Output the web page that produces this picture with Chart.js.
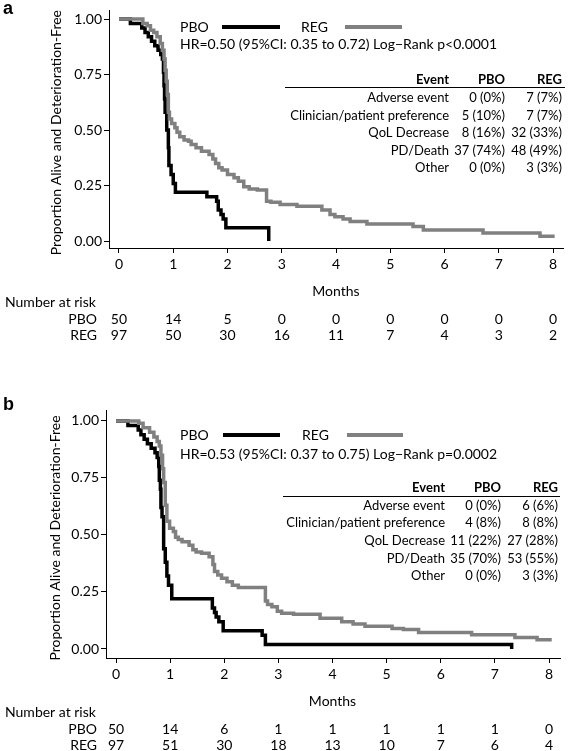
<!DOCTYPE html>
<html><head><meta charset="utf-8">
<script src="https://cdn.jsdelivr.net/npm/chart.js@4.4.0/dist/chart.umd.min.js"></script>
<style>
html,body{margin:0;padding:0;background:#fff;}
#wrap{position:relative;width:568px;height:751px;overflow:hidden;}
canvas{position:absolute;left:0;display:block;}
</style></head><body>
<div id="wrap">
<canvas id="ca" width="568" height="375" style="top:0"></canvas>
<canvas id="cb" width="568" height="376" style="top:375px"></canvas>
</div>
<script>
// ---------- DATA ----------
const monthTicks = [0, 1, 2, 3, 4, 5, 6, 7, 8];
const yTicks = [0, 0.25, 0.5, 0.75, 1];
const groupNames = ['PBO', 'REG'];
const eventLabels = ['Adverse event', 'Clinician/patient preference', 'QoL Decrease', 'PD/Death', 'Other'];

// Panel a
const aPboTime = [0, 0.21, 0.42, 0.48, 0.54, 0.60, 0.66, 0.72, 0.77, 0.80, 0.82, 0.83, 0.84, 0.85, 0.88, 0.91, 0.92, 0.96, 1.00, 1.04, 1.62, 1.80, 1.83, 1.88, 1.92, 1.97, 2.76];
const aPboSurv = [1.00, 0.98, 0.96, 0.94, 0.92, 0.90, 0.88, 0.86, 0.84, 0.82, 0.76, 0.70, 0.64, 0.58, 0.50, 0.42, 0.34, 0.30, 0.26, 0.22, 0.20, 0.18, 0.14, 0.12, 0.10, 0.06, 0.00];
const aRegTime = [0, 0.44, 0.52, 0.58, 0.64, 0.70, 0.76, 0.80, 0.83, 0.85, 0.87, 0.89, 0.91, 0.93, 0.97, 1.03, 1.07, 1.12, 1.20, 1.28, 1.33, 1.42, 1.52, 1.66, 1.73, 1.78, 1.84, 1.90, 2.00, 2.12, 2.20, 2.30, 2.40, 2.55, 2.72, 2.80, 2.97, 3.28, 3.74, 3.89, 3.98, 4.13, 4.26, 4.57, 5.42, 5.61, 6.71, 7.76, 8.03];
const aRegSurv = [1.00, 0.98, 0.97, 0.95, 0.94, 0.92, 0.89, 0.86, 0.82, 0.77, 0.72, 0.66, 0.58, 0.55, 0.53, 0.51, 0.49, 0.47, 0.455, 0.45, 0.435, 0.42, 0.405, 0.39, 0.37, 0.35, 0.33, 0.32, 0.30, 0.285, 0.27, 0.245, 0.235, 0.23, 0.18, 0.175, 0.165, 0.157, 0.14, 0.12, 0.11, 0.10, 0.088, 0.077, 0.066, 0.05, 0.036, 0.022, 0.022];
const aRiskPbo = [50, 14, 5, 0, 0, 0, 0, 0, 0];
const aRiskReg = [97, 50, 30, 16, 11, 7, 4, 3, 2];
const aEventPboN = [0, 5, 8, 37, 0];
const aEventPboPct = [0, 10, 16, 74, 0];
const aEventRegN = [7, 7, 32, 48, 3];
const aEventRegPct = [7, 7, 33, 49, 3];
const aStats = 'HR=0.50 (95%CI: 0.35 to 0.72) Log\u2212Rank p<0.0001';

// Panel b
const bPboTime = [0, 0.22, 0.41, 0.46, 0.52, 0.58, 0.65, 0.72, 0.76, 0.79, 0.80, 0.82, 0.83, 0.85, 0.88, 0.91, 0.94, 0.97, 1.03, 1.78, 1.82, 1.85, 1.90, 1.98, 2.70, 2.76, 7.31];
const bPboSurv = [1.00, 0.98, 0.96, 0.94, 0.92, 0.90, 0.88, 0.86, 0.84, 0.80, 0.74, 0.70, 0.62, 0.58, 0.44, 0.38, 0.32, 0.28, 0.22, 0.18, 0.16, 0.14, 0.12, 0.08, 0.06, 0.02, 0.00];
const bRegTime = [0, 0.42, 0.50, 0.62, 0.70, 0.76, 0.80, 0.83, 0.86, 0.88, 0.91, 0.94, 0.99, 1.06, 1.10, 1.15, 1.22, 1.35, 1.42, 1.48, 1.58, 1.72, 1.79, 1.82, 1.88, 1.95, 2.05, 2.15, 2.26, 2.76, 2.80, 2.88, 2.98, 3.06, 3.28, 3.77, 4.17, 4.38, 4.60, 5.10, 5.31, 5.59, 6.57, 7.37, 7.78, 8.05];
const bRegSurv = [1.00, 0.99, 0.97, 0.95, 0.93, 0.91, 0.89, 0.85, 0.79, 0.73, 0.63, 0.56, 0.53, 0.515, 0.49, 0.48, 0.47, 0.455, 0.435, 0.425, 0.42, 0.405, 0.37, 0.34, 0.325, 0.31, 0.295, 0.28, 0.27, 0.21, 0.195, 0.185, 0.165, 0.157, 0.152, 0.135, 0.12, 0.11, 0.10, 0.09, 0.085, 0.072, 0.062, 0.05, 0.04, 0.04];
const bRiskPbo = [50, 14, 6, 1, 1, 1, 1, 1, 0];
const bRiskReg = [97, 51, 30, 18, 13, 10, 7, 6, 4];
const bEventPboN = [0, 4, 11, 35, 0];
const bEventPboPct = [0, 8, 22, 70, 0];
const bEventRegN = [6, 8, 27, 53, 3];
const bEventRegPct = [6, 8, 28, 55, 3];
const bStats = 'HR=0.53 (95%CI: 0.37 to 0.75) Log\u2212Rank p=0.0002';

// ---------- STYLE / LAYOUT ----------
const FONT = 'Lato';
const PBO_COLOR = '#000000';
const REG_COLOR = '#808080';
const yTitle = 'Proportion Alive and Deterioration-Free';

function pts(t, s) { return t.map((v, i) => ({ x: v, y: s[i] })); }
function cell(n, p) { return n + ' (' + p + '%)'; }

function makePanel(canvasId, d, L) {
  const annot = {
    id: 'annot_' + canvasId,
    afterDraw(chart) {
      const ctx = chart.ctx;
      const xs = chart.scales.x, ys = chart.scales.y;
      const ca = chart.chartArea;
      ctx.save();
      ctx.fillStyle = '#000';
      // panel letter
      ctx.font = 'bold 18px "Liberation Sans"';
      ctx.textAlign = 'left'; ctx.textBaseline = 'alphabetic';
      ctx.fillText(d.letter, 3, L.letterY);
      // y title
      ctx.save();
      const cy = (ys.getPixelForValue(0) + ys.getPixelForValue(1)) / 2 + L.titleDy;
      ctx.translate(L.titleX, cy);
      ctx.rotate(-Math.PI / 2);
      ctx.font = '14px ' + FONT;
      ctx.textAlign = 'center'; ctx.textBaseline = 'middle';
      ctx.fillText(yTitle, 0, 0);
      ctx.restore();
      // legend
      ctx.font = '14px ' + FONT;
      ctx.textAlign = 'left'; ctx.textBaseline = 'middle';
      ctx.fillText(groupNames[0], L.pboTextX, L.legY);
      ctx.fillText(groupNames[1], L.regTextX, L.legY);
      ctx.lineWidth = 4; ctx.lineCap = 'butt';
      ctx.strokeStyle = PBO_COLOR;
      ctx.beginPath(); ctx.moveTo(L.pboLine[0], L.legY); ctx.lineTo(L.pboLine[1], L.legY); ctx.stroke();
      ctx.strokeStyle = REG_COLOR;
      ctx.beginPath(); ctx.moveTo(L.regLine[0], L.legY); ctx.lineTo(L.regLine[1], L.legY); ctx.stroke();
      ctx.fillText(d.stats, L.pboTextX, L.hrY);
      // table
      ctx.textAlign = 'right';
      ctx.font = 'bold 13px ' + FONT;
      ctx.fillText('Event', L.tabCols[0], L.tabHeadY);
      ctx.fillText(groupNames[0], L.tabCols[1], L.tabHeadY);
      ctx.fillText(groupNames[1], L.tabCols[2], L.tabHeadY);
      ctx.lineWidth = 1; ctx.strokeStyle = '#000';
      ctx.beginPath(); ctx.moveTo(L.tabRule[0], L.tabRuleY + 0.5); ctx.lineTo(L.tabRule[1], L.tabRuleY + 0.5); ctx.stroke();
      ctx.font = '13px ' + FONT;
      eventLabels.forEach((lab, i) => {
        const y = L.tabRowY0 + i * L.tabRowDy;
        ctx.fillText(lab, L.tabCols[0], y);
        ctx.fillText(cell(d.evPboN[i], d.evPboPct[i]), L.tabCols[1], y);
        ctx.fillText(cell(d.evRegN[i], d.evRegPct[i]), L.tabCols[2], y);
      });
      // x title & number at risk
      const b = ca.bottom;
      ctx.font = '14px ' + FONT;
      ctx.textAlign = 'center';
      ctx.fillText('Months', (xs.getPixelForValue(monthTicks[0]) + xs.getPixelForValue(monthTicks[monthTicks.length - 1])) / 2, b + 43);
      ctx.textAlign = 'left';
      ctx.fillText('Number at risk', 5, b + 54);
      ctx.textAlign = 'right';
      ctx.fillText(groupNames[0], 97, b + 71);
      ctx.fillText(groupNames[1], 97, b + 87);
      ctx.textAlign = 'center';
      monthTicks.forEach((m, i) => {
        const x = xs.getPixelForValue(m);
        ctx.fillText(String(d.riskPbo[i]), x, b + 71);
        ctx.fillText(String(d.riskReg[i]), x, b + 87);
      });
      ctx.restore();
    }
  };

  return new Chart(document.getElementById(canvasId), {
    type: 'line',
    data: {
      datasets: [
        { label: groupNames[1], data: pts(d.regT, d.regS), borderColor: REG_COLOR, borderWidth: 3.5, stepped: 'before', pointRadius: 0, fill: false, order: 0, borderCapStyle: 'butt', borderJoinStyle: 'miter' },
        { label: groupNames[0], data: pts(d.pboT, d.pboS), borderColor: PBO_COLOR, borderWidth: 3.5, stepped: 'before', pointRadius: 0, fill: false, order: 1, borderCapStyle: 'butt', borderJoinStyle: 'miter' }
      ]
    },
    options: {
      responsive: false,
      animation: false,
      devicePixelRatio: 1,
      layout: { autoPadding: false, padding: L.padding },
      plugins: { legend: { display: false }, tooltip: { enabled: false } },
      scales: {
        x: {
          type: 'linear', min: L.xMin, max: L.xMax,
          afterBuildTicks: s => { s.ticks = monthTicks.map(v => ({ value: v })); },
          afterFit: s => { s.height = 30; },
          ticks: { color: '#000', font: { family: FONT, size: 14 }, padding: 3, maxRotation: 0, autoSkip: false, callback: v => String(v) },
          grid: { display: true, drawOnChartArea: false, drawTicks: true, tickLength: 5, color: '#000', lineWidth: 1 },
          border: { display: true, color: '#000', width: 1 }
        },
        y: {
          type: 'linear', min: L.yMin, max: L.yMax,
          afterBuildTicks: s => { s.ticks = yTicks.map(v => ({ value: v })); },
          afterFit: s => { s.width = L.yWidth; },
          ticks: { color: '#000', font: { family: FONT, size: 14 }, padding: 2, autoSkip: false, callback: v => Number(v).toFixed(2) },
          grid: { display: true, drawOnChartArea: false, drawTicks: true, tickLength: 5, color: '#000', lineWidth: 1 },
          border: { display: true, color: '#000', width: 1 }
        }
      }
    },
    plugins: [annot]
  });
}

makePanel('ca', {
  letter: 'a', stats: aStats,
  pboT: aPboTime, pboS: aPboSurv, regT: aRegTime, regS: aRegSurv,
  riskPbo: aRiskPbo, riskReg: aRiskReg,
  evPboN: aEventPboN, evPboPct: aEventPboPct, evRegN: aEventRegN, evRegPct: aEventRegPct
}, {
  padding: { left: 0, top: 3, right: 5, bottom: 97 }, yWidth: 109,
  xMin: -0.184, xMax: 8.184, yMin: -0.031, yMax: 1.039,
  letterY: 14, titleX: 56, titleDy: 2.5,
  legY: 27, hrY: 44, pboTextX: 180, pboLine: [222, 280], regTextX: 301, regLine: [345, 402],
  tabCols: [449, 505, 562], tabHeadY: 80, tabRuleY: 87, tabRule: [285, 565], tabRowY0: 98.3, tabRowDy: 17.5
});

makePanel('cb', {
  letter: 'b', stats: bStats,
  pboT: bPboTime, pboS: bPboSurv, regT: bRegTime, regS: bRegSurv,
  riskPbo: bRiskPbo, riskReg: bRiskReg,
  evPboN: bEventPboN, evPboPct: bEventPboPct, evRegN: bEventRegN, evRegPct: bEventRegPct
}, {
  padding: { left: 0, top: 35, right: 8, bottom: 63 }, yWidth: 106,
  xMin: -0.185, xMax: 8.203, yMin: -0.0395, yMax: 1.048,
  letterY: 35, titleX: 55.5, titleDy: 3,
  legY: 60, hrY: 79, pboTextX: 180, pboLine: [223, 280], regTextX: 302, regLine: [347, 403],
  tabCols: [445, 501, 558], tabHeadY: 113, tabRuleY: 121, tabRule: [283, 560], tabRowY0: 130.7, tabRowDy: 17.6
});
</script>
</body></html>
